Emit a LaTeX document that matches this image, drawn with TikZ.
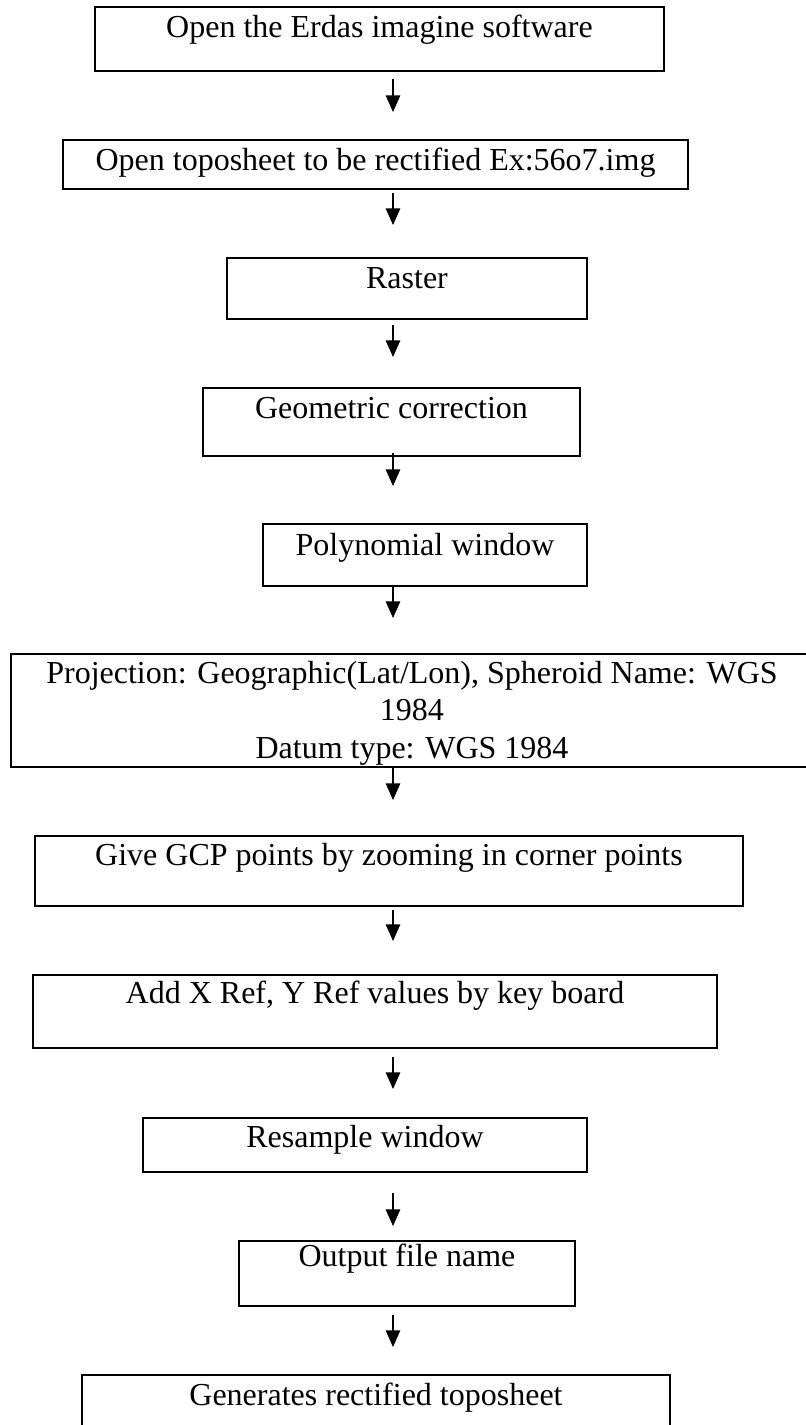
\documentclass[tikz,border=0pt]{standalone}
\usepackage{fontspec}
\setmainfont{Liberation Serif}
\usetikzlibrary{arrows.meta,fit}
\begin{document}
\begin{tikzpicture}[x=0.375pt,y=-0.375pt,
  box/.style={draw, line width=0.75pt, inner sep=0pt, outer sep=0pt},
  lbl/.style={anchor=base, inner sep=0pt, align=center,
              font=\fontsize{12}{14.06}\selectfont},
  arr/.style={line width=0.45pt, -{Triangle[width=5.4pt,length=6.2pt]}}]
% page
\fill[white] (0,0) rectangle (805,1425);
\useasboundingbox (0,0) rectangle (805,1425);
\coordinate (axis) at (393,0);

% process boxes
\node[box, fit={(95,7)(664,71)}]      (b1)  {};
\node[box, fit={(63,140)(688,189)}]   (b2)  {};
\node[box, fit={(227,258)(587,319)}]  (b3)  {};
\node[box, fit={(203,388)(580,456)}]  (b4)  {};
\node[box, fit={(263,524)(587,586)}]  (b5)  {};
\node[box, fit={(11,654)(813,767)}]   (b6)  {};
\node[box, fit={(35,836)(743,906)}]   (b7)  {};
\node[box, fit={(33,975)(717,1048)}]  (b8)  {};
\node[box, fit={(143,1118)(587,1172)}] (b9) {};
\node[box, fit={(239,1241)(575,1306)}] (b10) {};
\node[box, fit={(82,1375)(670,1440)}] (b11) {};

% box texts (base anchor of a multi-line label is its last line)
\node[lbl] (t1)  at (379.5,37)  {Open the Erdas imagine software};
\node[lbl] (t2)  at (375.5,170) {Open toposheet to be rectified Ex:56o7.img};
\node[lbl] (t3)  at (407,288)   {Raster};
\node[lbl] (t4)  at (391.5,418) {Geometric correction};
\node[lbl] (t5)  at (425,555)   {Polynomial window};
\node[lbl] (t6)  at (412,758)   {Projection: Geographic(Lat/Lon), Spheroid Name: WGS\\1984\\Datum type: WGS 1984};
\node[lbl] (t7)  at (389,865)   {Give GCP points by zooming in corner points};
\node[lbl] (t8)  at (375,1003)  {Add X Ref, Y Ref values by key board};
\node[lbl] (t9)  at (365,1147)  {Resample window};
\node[lbl] (t10) at (407,1266)  {Output file name};
\node[lbl] (t11) at (376,1405)  {Generates rectified toposheet};

% flow arrows
\draw[arr] ([yshift={-8*0.375pt}]b1.south -| axis)  -- ++(0,33);
\draw[arr] ([yshift={-4*0.375pt}]b2.south -| axis)  -- ++(0,32);
\draw[arr] ([yshift={-6*0.375pt}]b3.south -| axis)  -- ++(0,32);
\draw[arr] ([yshift={ 3*0.375pt}]b4.south -| axis)  -- ++(0,33);
\draw[arr] ([yshift={-1*0.375pt}]b5.south -| axis)  -- ++(0,31);
\draw[arr] ([yshift={-1*0.375pt}]b6.south -| axis)  -- ++(0,32);
\draw[arr] ([yshift={-4*0.375pt}]b7.south -| axis)  -- ++(0,31);
\draw[arr] ([yshift={-9*0.375pt}]b8.south -| axis)  -- ++(0,32);
\draw[arr] ([yshift={-21*0.375pt}]b9.south -| axis) -- ++(0,33);
\draw[arr] ([yshift={-9*0.375pt}]b10.south -| axis) -- ++(0,32);
\end{tikzpicture}
\end{document}
